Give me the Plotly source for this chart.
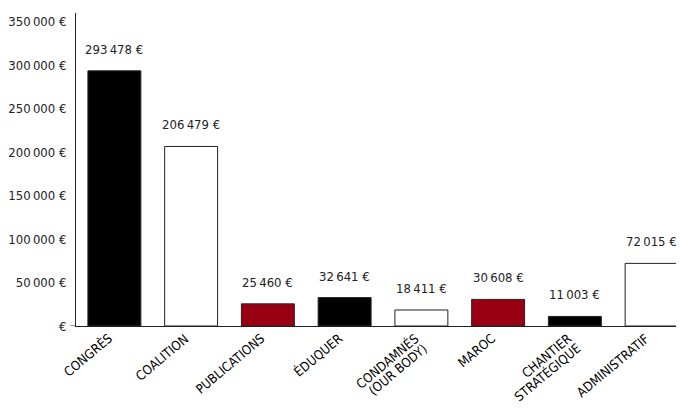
import plotly.graph_objects as go

categories = ["CONGRÈS", "COALITION", "PUBLICATIONS", "ÉDUQUER", "CONDAMNÉS<br>(OUR BODY)",
              "MAROC", "CHANTIER<br>STRATÉGIQUE", "ADMINISTRATIF"]
values = [293478, 206479, 25460, 32641, 18411, 30608, 11003, 72015]
value_labels = ["293\u2009478 €", "206\u2009479 €", "25\u2009460 €", "32\u2009641 €",
                "18\u2009411 €", "30\u2009608 €", "11\u2009003 €", "72\u2009015 €"]
fill_colors = ["#000000", "#ffffff", "#990012", "#000000", "#ffffff", "#990012", "#000000", "#ffffff"]
tick_vals = [0, 50000, 100000, 150000, 200000, 250000, 300000, 350000]
tick_text = ["€", "50\u2009000 €", "100\u2009000 €", "150\u2009000 €", "200\u2009000 €",
             "250\u2009000 €", "300\u2009000 €", "350\u2009000 €"]

FONT = "DejaVu Sans Condensed, Liberation Sans Narrow, Arial Narrow, sans-serif"

fig = go.Figure()
fig.add_trace(go.Bar(
    x=categories, y=values,
    marker=dict(color=fill_colors, line=dict(color="#222222", width=1)),
    width=0.69,
    hoverinfo="skip",
))

for c, v, t in zip(categories, values, value_labels):
    fig.add_annotation(x=c, y=v, text=t, showarrow=False, yanchor="bottom",
                       yshift=12, font=dict(family=FONT, size=13, color="#222222"))

# rotated category labels; each line right-aligned along the text direction
for c in categories:
    for i, line in enumerate(c.split("<br>")):
        fig.add_annotation(x=c, y=0, text=line, showarrow=False, xanchor="right", yanchor="top",
                           textangle=-40, xshift=3 + i * 8.4, yshift=-2 - i * 10,
                           font=dict(family=FONT, size=13, color="#000000"))

fig.add_shape(type="line", xref="paper", yref="y", x0=-0.009, x1=0, y0=0, y1=0,
              line=dict(color="#222222", width=1))

fig.update_layout(
    width=682, height=402,
    margin=dict(l=68, r=0, t=5, b=84),
    paper_bgcolor="white", plot_bgcolor="white",
    showlegend=False,
    font=dict(family=FONT, size=13, color="#222222"),
    bargap=0.3,
)
fig.update_xaxes(
    range=[-0.5, len(categories) - 0.5], autorange=False,
    showline=True, linecolor="#222222", linewidth=1, automargin=False,
    ticks="", showgrid=False, showticklabels=False,
)
fig.update_yaxes(
    range=[0, 360000], autorange=False, tickvals=tick_vals, ticktext=tick_text, automargin=False,
    showline=True, linecolor="#222222", linewidth=1, showgrid=False, zeroline=False,
    ticks="", ticklabelstandoff=6, tickfont=dict(family=FONT, size=13, color="#222222"),
)

fig.write_html("out.html")
